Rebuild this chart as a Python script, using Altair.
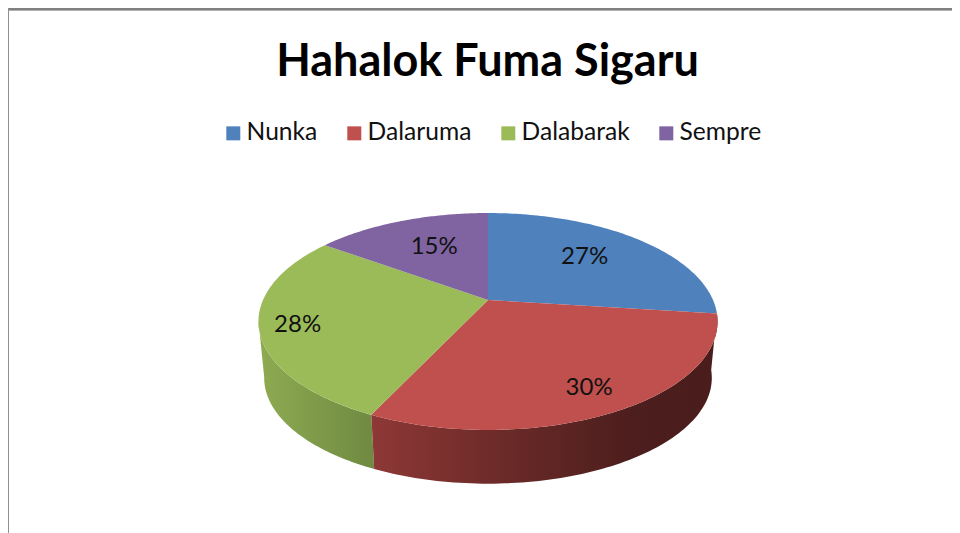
import math
import altair as alt
import pandas as pd

CATEGORIES = ["Nunka", "Dalaruma", "Dalabarak", "Sempre"]
VALUES = [27, 30, 28, 15]
COLORS = ["#4F81BD", "#C0504D", "#9BBB59", "#8064A2"]
TITLE = "Hahalok Fuma Sigaru"

# geometry of the tilted disc (perspective view of a circle)
CX, CY, A, B, K = 488.0, 300.0, 225.0, 104.2, -0.198
DEPTH, SHRINK = 57.0, 0.975
LABEL_R = [0.65, 0.82, 0.84, 0.63]
LABEL_TURN = [-2.6, 0.8, -1.6, 2.0]
W, H = 944, 525


def project(theta_deg, r=1.0, bottom=False):
    t = math.radians(theta_deg)
    x, y = r * math.sin(t), -r * math.cos(t)
    d = 1 + K * y
    X, Y = A * x / d, B * y / d
    if bottom:
        X, Y = X * SHRINK, Y * SHRINK + DEPTH
    return CX + X, CY + Y


bounds = [0.0]
for v in VALUES:
    bounds.append(bounds[-1] + v * 3.6)

top_rows, label_rows = [], []
for i, cat in enumerate(CATEGORIES):
    a0, a1 = bounds[i], bounds[i + 1]
    n = 90
    pts = [(CX, CY)] + [project(a0 + (a1 - a0) * j / n) for j in range(n + 1)] + [(CX, CY)]
    for o, (x, y) in enumerate(pts):
        top_rows.append({"cat": cat, "x": x, "y": y, "o": o})
    lx, ly = project((a0 + a1) / 2 + LABEL_TURN[i], LABEL_R[i])
    label_rows.append({"x": lx, "y": ly, "label": f"{VALUES[i]}%"})


def side(a0, a1, name):
    n = 90
    arc = [project(a0 + (a1 - a0) * j / n) for j in range(n + 1)]
    low = [project(a0 + (a1 - a0) * j / n, bottom=True) for j in range(n + 1)]
    pts = arc + low[::-1] + arc[:1]
    return pd.DataFrame([{"cat": name, "x": x, "y": y, "o": o} for o, (x, y) in enumerate(pts)])


X = alt.X("x:Q", scale=alt.Scale(domain=[8, 8 + W]), axis=None)
Y = alt.Y("y:Q", scale=alt.Scale(domain=[8 + H, 8]), axis=None)

red_grad = alt.Gradient(
    gradient="linear", x1=0, x2=1, y1=0, y2=0,
    stops=[
        alt.GradientStop(offset=0, color="#8E3836"),
        alt.GradientStop(offset=0.45, color="#652826"),
        alt.GradientStop(offset=0.75, color="#4C1E1D"),
        alt.GradientStop(offset=1, color="#4A1D1C"),
    ],
)
green_grad = alt.Gradient(
    gradient="linear", x1=0, x2=1, y1=0, y2=0,
    stops=[
        alt.GradientStop(offset=0, color="#8EAB52"),
        alt.GradientStop(offset=1, color="#6F8A41"),
    ],
)

red_side = alt.Chart(side(bounds[1], bounds[2], "red")).mark_line(
    fill=red_grad, stroke=None, interpolate="linear"
).encode(x=X, y=Y, order="o:Q")
green_side = alt.Chart(side(bounds[2], 259, "green")).mark_line(
    fill=green_grad, stroke=None
).encode(x=X, y=Y, order="o:Q")

top = alt.Chart(pd.DataFrame(top_rows)).mark_line(filled=True, strokeWidth=0.5).encode(
    x=X, y=Y, order="o:Q",
    color=alt.Color(
        "cat:N",
        scale=alt.Scale(domain=CATEGORIES, range=COLORS),
        legend=alt.Legend(
            title=None, orient="none", legendX=213, legendY=113, direction="horizontal",
            columns=4, symbolType="square", symbolSize=196, symbolStrokeWidth=0,
            labelFont="Lato", labelFontSize=24.6, labelColor="#111111", columnPadding=24,
            labelOffset=1, labelLimit=200,
        ),
        sort=CATEGORIES,
    ),
)

labels = alt.Chart(pd.DataFrame(label_rows)).mark_text(
    font="Lato", fontSize=24, color="#111111"
).encode(x=X, y=Y, text="label:N")

frame_top = alt.Chart(pd.DataFrame({"a": [0]})).mark_rule(color="#808080", strokeWidth=2).encode(
    x=alt.value(0), x2=alt.value(W), y=alt.value(1)
)
frame_top2 = alt.Chart(pd.DataFrame({"a": [0]})).mark_rule(color="#B0B0B0", strokeWidth=1).encode(
    x=alt.value(0), x2=alt.value(W), y=alt.value(2.5)
)
frame_left = alt.Chart(pd.DataFrame({"a": [0]})).mark_rule(color="#909090", strokeWidth=1).encode(
    x=alt.value(0.5), y=alt.value(0), y2=alt.value(H)
)

chart = (
    alt.layer(green_side, red_side, top, labels, frame_top, frame_top2, frame_left)
    .properties(
        width=W, height=H, padding=0,
        autosize=alt.AutoSizeParams(type="none"),
        title=alt.TitleParams(
            TITLE, font="Lato", fontSize=45, fontWeight="bold", color="#000000",
            anchor="middle", dx=7.5, dy=113, offset=0, baseline="alphabetic",
        ),
    )
    .configure_view(stroke=None)
)

chart.save("out.html", embed_options={"renderer": "svg", "actions": False})
